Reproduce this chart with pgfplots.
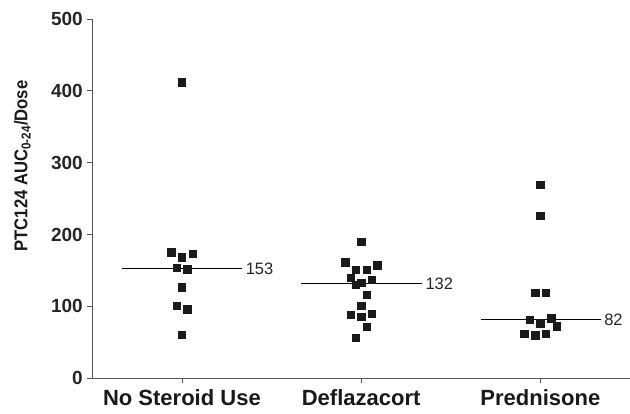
\documentclass[border=0pt]{standalone}
\usepackage{fontspec}
\setmainfont{Liberation Sans}
\newfontfamily\narrowlab[FakeStretch=0.9]{Liberation Sans}
\usepackage{pgfplots}
\pgfplotsset{compat=1.18}
\definecolor{axgray}{HTML}{555555}
\definecolor{mk}{HTML}{1A1A1A}
\begin{document}
\begin{tikzpicture}
\begin{axis}[
  scale only axis,
  width=537.7pt, height=359.3pt,
  xmin=0.5, xmax=3.5, ymin=0, ymax=500,
  axis x line=bottom, axis y line=left,
  axis line style={axgray, line width=1pt, -},
  xtick={1,2,3},
  xticklabels={No Steroid Use, Deflazacort, Prednisone},
  ytick={0,100,200,300,400,500},
  tick style={axgray, line width=0.8pt},
  x tick style={line width=0.5pt},
  major tick length=5pt,
  tick align=outside,
  /pgf/number format/assume math mode=true,
  yticklabel style={font=\fontsize{19}{22}\selectfont\bfseries, color=black!85, xshift=-1pt},
  xticklabel style={font=\fontsize{22}{26}\selectfont\bfseries, color=black!90, yshift=-3pt},
  ylabel={PTC124 AUC\textsubscript{0-24}/Dose},
  every axis y label/.style={at={(axis description cs:-0.130,0.591)}, rotate=90, anchor=center, font=\narrowlab\fontsize{18.5}{22}\selectfont\bfseries, color=black!90},
  clip=false,
]
\addplot[only marks, mark=square*, mark size=3.7pt, mark options={mk, fill=mk}] coordinates {
  (1,412) (0.94,175.6) (1.06,173.7) (1,168.6) (0.97,154.2) (1.03,151.9)
  (1,126.8) (0.97,101.2) (1.03,96.2) (1,60.3)
};
\addplot[only marks, mark=square*, mark size=3.7pt, mark options={mk, fill=mk}] coordinates {
  (2,190.4) (1.91,161.7) (2.09,157.5) (1.97,151.4) (2.03,151) (1.94,139.8)
  (2.06,137.5) (2,133.3) (1.97,130.1) (2.03,116.6) (2,100.8) (1.94,88.2)
  (2.06,89.6) (2,85.4) (2.03,71.5) (1.97,56.2)
};
\addplot[only marks, mark=square*, mark size=3.7pt, mark options={mk, fill=mk}] coordinates {
  (3,269.4) (3,226.6) (2.97,118.9) (3.03,119.3) (2.94,81.7) (3.06,83.6)
  (3,76.7) (3.09,72.5) (2.91,62.2) (2.97,59.9) (3.03,61.7)
};
\addplot[black, line width=1.3pt] coordinates {(0.663,153) (1.336,153)}
  node[pos=1, right, inner sep=3pt, font=\fontsize{16.5}{19}\selectfont, color=black!85] {153};
\addplot[black, line width=1.3pt] coordinates {(1.665,131.5) (2.339,131.5)}
  node[pos=1, right, inner sep=3pt, font=\fontsize{16.5}{19}\selectfont, color=black!85] {132};
\addplot[black, line width=1.3pt] coordinates {(2.667,81.5) (3.336,81.5)}
  node[pos=1, right, inner sep=3pt, font=\fontsize{16.5}{19}\selectfont, color=black!85] {82};
\end{axis}
\pgfresetboundingbox
\path[use as bounding box] ([xshift=-92.3pt,yshift=-34.7pt]current axis.south west) rectangle ([yshift=19pt]current axis.north east);
\end{tikzpicture}
\end{document}
